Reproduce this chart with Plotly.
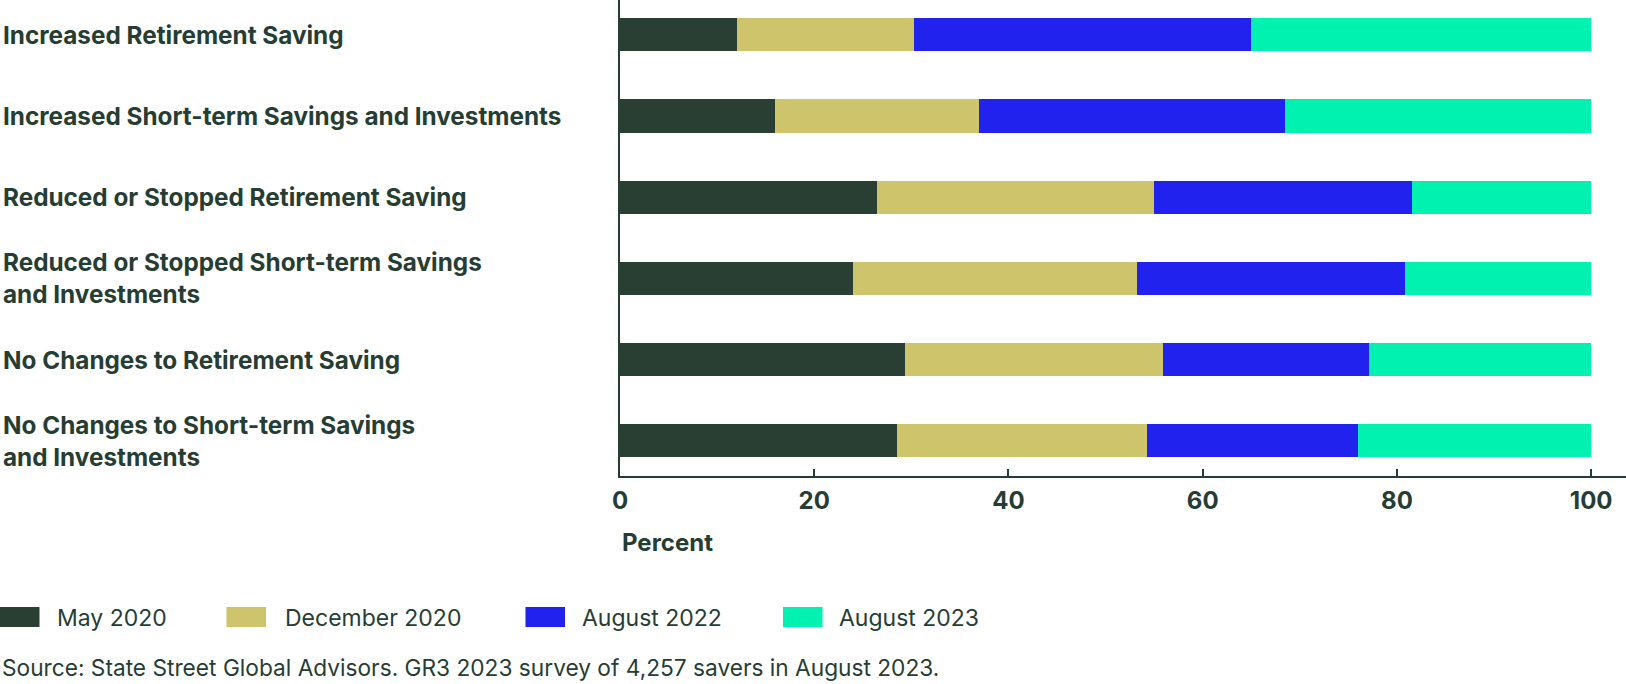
import plotly.graph_objects as go

categories = [
    "Increased Retirement Saving",
    "Increased Short-term Savings and Investments",
    "Reduced or Stopped Retirement Saving",
    "Reduced or Stopped Short-term Savings<br>and Investments",
    "No Changes to Retirement Saving",
    "No Changes to Short-term Savings<br>and Investments",
]
series_names = ["May 2020", "December 2020", "August 2022", "August 2023"]
may_2020 = [12.0, 16.0, 26.5, 24.0, 29.3, 28.5]
dec_2020 = [18.3, 21.0, 28.5, 29.2, 26.6, 25.8]
aug_2022 = [34.7, 31.5, 26.5, 27.6, 21.2, 21.7]
aug_2023 = [35.0, 31.5, 18.5, 19.2, 22.9, 24.0]
x_ticks = [0, 20, 40, 60, 80, 100]
source_text = "Source: State Street Global Advisors. GR3 2023 survey of 4,257 savers in August 2023."

colors = ["#293f33", "#cec46b", "#2122ee", "#00f2b1"]
TXT = "#263d33"
FONT = "Inter"

W, H = 1626, 684
ML, MR, MT, MB = 620, 0, 0, 208
PW, PH = W - ML - MR, H - MT - MB


def px(xp):
    return (xp - ML) / PW


def py(yp):
    return (H - MB - yp) / PH


fig = go.Figure()
idx = list(range(len(categories)))
for name, vals, col in zip(series_names, [may_2020, dec_2020, aug_2022, aug_2023], colors):
    fig.add_trace(go.Bar(
        y=idx, x=vals, name=name, orientation="h",
        marker=dict(color=col, line=dict(width=0)),
        width=0.407, showlegend=False,
    ))

annotations = []
for i, c in enumerate(categories):
    annotations.append(dict(
        x=px(1), xref="paper", y=i, yref="y", text=c, showarrow=False,
        xanchor="left", yanchor="middle", align="left",
        font=dict(family=FONT, size=24.3, color=TXT, weight=700),
    ))

annotations.append(dict(
    x=0, xref="paper", y=py(542), yref="paper", text="Percent", showarrow=False,
    xanchor="left", yanchor="middle",
    font=dict(family=FONT, size=24, color=TXT, weight=700),
))

shapes = []
sw_x = [0, 226.5, 525.5, 783]
tx_x = [54.8, 282.5, 580, 837]
for name, col, sx, tx in zip(series_names, colors, sw_x, tx_x):
    shapes.append(dict(type="rect", xref="paper", yref="paper",
                       x0=px(sx), x1=px(sx + 39.5), y0=py(627), y1=py(607),
                       fillcolor=col, line=dict(width=0)))
    annotations.append(dict(
        x=px(tx), xref="paper", y=py(618), yref="paper", text=name, showarrow=False,
        xanchor="left", yanchor="middle",
        font=dict(family=FONT, size=23, color=TXT),
    ))

annotations.append(dict(
    x=px(0), xref="paper", y=py(667), yref="paper", text=source_text, showarrow=False,
    xanchor="left", yanchor="middle",
    font=dict(family=FONT, size=22.7, color=TXT),
))

fig.update_layout(
    width=W, height=H,
    margin=dict(l=ML, r=MR, t=MT, b=MB, pad=0),
    paper_bgcolor="white", plot_bgcolor="white",
    barmode="stack",
    annotations=annotations, shapes=shapes,
    font=dict(family=FONT, color=TXT),
    xaxis=dict(
        range=[0, PW / 9.712], tickvals=x_ticks, ticktext=[str(t) for t in x_ticks],
        showgrid=False, zeroline=False, showline=True, linecolor=TXT, linewidth=2,
        ticks="inside", ticklen=7, tickwidth=2, tickcolor=TXT,
        tickfont=dict(family=FONT, size=24, color=TXT, weight=700),
        ticklabelstandoff=2,
    ),
    yaxis=dict(
        range=[5.435, -0.429], showticklabels=False, showgrid=False, zeroline=False,
        showline=True, linecolor=TXT, linewidth=2, ticks="",
    ),
)

fig.write_html(
    "out.html",
    config={"displayModeBar": False},
    post_script="document.body.style.margin='0';document.body.style.padding='0';",
)
